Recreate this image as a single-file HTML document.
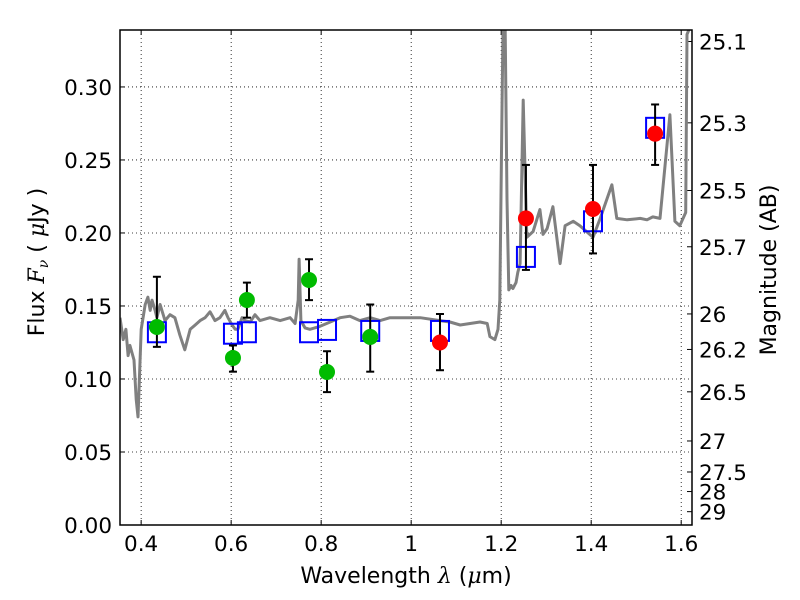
<!DOCTYPE html>
<html><head><meta charset="utf-8"><style>
body{margin:0;background:#fff}
svg{display:block;font-family:"DejaVu Sans","Liberation Sans",sans-serif}
.m{font-family:"DejaVu Serif","Liberation Serif",serif;font-style:italic}
</style></head><body>
<svg id="chart" width="800" height="600" viewBox="0 0 800 600" xmlns="http://www.w3.org/2000/svg"></svg>
<script>
const xTicks=[0.4,0.6,0.8,1,1.2,1.4,1.6];
const yTicks=[0.00,0.05,0.10,0.15,0.20,0.25,0.30];
const magTicks=[25.1,25.3,25.5,25.7,26,26.2,26.5,27,27.5,28,29];
const greenX=[0.435,0.604,0.635,0.773,0.813,0.909];
const greenY=[0.1356,0.1144,0.1541,0.1678,0.1048,0.1288];
const greenLo=[0.122,0.105,0.142,0.154,0.091,0.105];
const greenHi=[0.170,0.123,0.166,0.182,0.119,0.151];
const redX=[1.064,1.255,1.404,1.542];
const redY=[0.125,0.210,0.2164,0.268];
const redLo=[0.106,0.1747,0.186,0.2466];
const redHi=[0.1445,0.2466,0.2466,0.288];
const modelX=[0.435,0.604,0.635,0.773,0.813,0.909,1.064,1.255,1.404,1.542];
const modelY=[0.132,0.131,0.132,0.132,0.1336,0.1329,0.1329,0.1836,0.208,0.272];
const specX=[0.353,0.360,0.366,0.371,0.375,0.384,0.389,0.393,0.400,0.409,0.415,0.420,0.424,0.431,0.435,0.442,0.453,0.464,0.475,0.486,0.497,0.509,0.520,0.531,0.542,0.553,0.564,0.575,0.586,0.593,0.602,0.609,0.615,0.624,0.631,0.642,0.653,0.664,0.686,0.709,0.731,0.742,0.749,0.751,0.755,0.764,0.775,0.797,0.820,0.842,0.864,0.886,0.909,0.931,0.953,0.975,1.020,1.064,1.086,1.109,1.131,1.153,1.169,1.175,1.186,1.193,1.197,1.202,1.204,1.209,1.213,1.217,1.222,1.226,1.233,1.237,1.242,1.249,1.257,1.271,1.286,1.293,1.302,1.315,1.331,1.342,1.360,1.375,1.404,1.420,1.446,1.457,1.480,1.509,1.524,1.537,1.553,1.575,1.586,1.597,1.610,1.613,1.617];
const specY=[0.142,0.127,0.134,0.116,0.123,0.113,0.086,0.074,0.134,0.151,0.156,0.147,0.154,0.147,0.142,0.151,0.140,0.144,0.142,0.130,0.120,0.134,0.137,0.140,0.142,0.146,0.140,0.142,0.147,0.142,0.137,0.134,0.134,0.142,0.140,0.139,0.144,0.140,0.142,0.140,0.142,0.138,0.154,0.182,0.140,0.135,0.134,0.136,0.139,0.142,0.143,0.140,0.142,0.140,0.142,0.142,0.142,0.140,0.139,0.137,0.138,0.139,0.138,0.129,0.127,0.134,0.154,0.291,0.339,0.339,0.223,0.161,0.164,0.162,0.166,0.173,0.179,0.291,0.197,0.201,0.216,0.199,0.203,0.218,0.179,0.205,0.208,0.205,0.197,0.210,0.233,0.210,0.209,0.210,0.209,0.211,0.210,0.281,0.208,0.205,0.214,0.336,0.339];
const X0=120,X1=692,Y0=30,Y1=525,xmin=0.353,xmax=1.624,ymin=0,ymax=0.339;
const sx=v=>X0+(v-xmin)/(xmax-xmin)*(X1-X0);
const sy=v=>Y1-(v-ymin)/(ymax-ymin)*(Y1-Y0);
const magToF=m=>Math.pow(10,(23.9-m)/2.5);
const svg=document.getElementById('chart');
const NS='http://www.w3.org/2000/svg';
function mk(t,a,txt){const e=document.createElementNS(NS,t);for(const k in a)e.setAttribute(k,a[k]);if(txt!==undefined)e.textContent=txt;svg.appendChild(e);return e;}
const cp=document.createElementNS(NS,'clipPath');cp.setAttribute('id','clip');
const cr=document.createElementNS(NS,'rect');cr.setAttribute('x',X0);cr.setAttribute('y',Y0);cr.setAttribute('width',X1-X0);cr.setAttribute('height',Y1-Y0);cp.appendChild(cr);svg.appendChild(cp);
xTicks.forEach(v=>{const x=sx(v);
 let g=mk('line',{x1:x,x2:x,y1:Y0,y2:Y1,stroke:'#000','stroke-width':0.8,'stroke-dasharray':'1,3'});
 
 mk('line',{x1:x,x2:x,y1:Y1,y2:Y1-5,stroke:'#000'});mk('line',{x1:x,x2:x,y1:Y0,y2:Y0+5,stroke:'#000'});
 let t=mk('text',{x:x,y:Y1+26,'font-size':21.5,'text-anchor':'middle'},String(v));
 });
yTicks.forEach(v=>{const y=sy(v);
 let g=mk('line',{x1:X0,x2:X1,y1:y,y2:y,stroke:'#000','stroke-width':0.8,'stroke-dasharray':'1,3'});
 
 mk('line',{x1:X0,x2:X0+5,y1:y,y2:y,stroke:'#000'});
 let t=mk('text',{x:X0-8,y:y+8,'font-size':21.5,'text-anchor':'end'},v.toFixed(2));
 });
magTicks.forEach(m=>{const y=sy(magToF(m));
 mk('line',{x1:X1,x2:X1-5,y1:y,y2:y,stroke:'#000'});
 let t=mk('text',{x:X1+7,y:y+8,'font-size':21.5},String(m));
 });
let d='';specX.forEach((v,i)=>{d+=(i?'L':'M')+sx(v).toFixed(1)+','+sy(specY[i]).toFixed(1);});
let sp=mk('path',{d:d,fill:'none',stroke:'#808080','stroke-width':3,'clip-path':'url(#clip)','stroke-linejoin':'round'});

modelX.forEach((v,i)=>{let r=mk('rect',{x:sx(v)-9,y:sy(modelY[i])-10,width:18,height:20,fill:'none',stroke:'#0000ff','stroke-width':2});
 });
function pts(xs,ys,lo,hi,col,name){xs.forEach((v,i)=>{const x=sx(v);
 mk('line',{x1:x,x2:x,y1:sy(lo[i]),y2:sy(hi[i]),stroke:'#000','stroke-width':2});
 mk('line',{x1:x-4,x2:x+4,y1:sy(lo[i]),y2:sy(lo[i]),stroke:'#000','stroke-width':2});
 mk('line',{x1:x-4,x2:x+4,y1:sy(hi[i]),y2:sy(hi[i]),stroke:'#000','stroke-width':2});
 let c=mk('circle',{cx:x,cy:sy(ys[i]),r:8,fill:col});
 });}
pts(greenX,greenY,greenLo,greenHi,'#00bb00','hst-data-point');
pts(redX,redY,redLo,redHi,'#ff0000','ir-data-point');
let f=mk('rect',{x:X0,y:Y0,width:X1-X0,height:Y1-Y0,fill:'none',stroke:'#000','stroke-width':1.5});

let xl=mk('text',{x:406,y:583,'font-size':22,'text-anchor':'middle'});
xl.innerHTML='Wavelength  <tspan class="m">λ</tspan> (<tspan class="m">μ</tspan>m)';

let yl=mk('text',{x:0,y:0,'font-size':22,'text-anchor':'middle',transform:'translate(44,262) rotate(-90)'});
yl.innerHTML='Flux  <tspan class="m">F</tspan><tspan class="m" font-size="14" dy="4">ν</tspan><tspan dy="-4">  ( </tspan><tspan class="m">μ</tspan>Jy )';

let ml=mk('text',{x:0,y:0,'font-size':22,'text-anchor':'middle',transform:'translate(776,270) rotate(-90)'},'Magnitude (AB)');

</script>
</body></html>
